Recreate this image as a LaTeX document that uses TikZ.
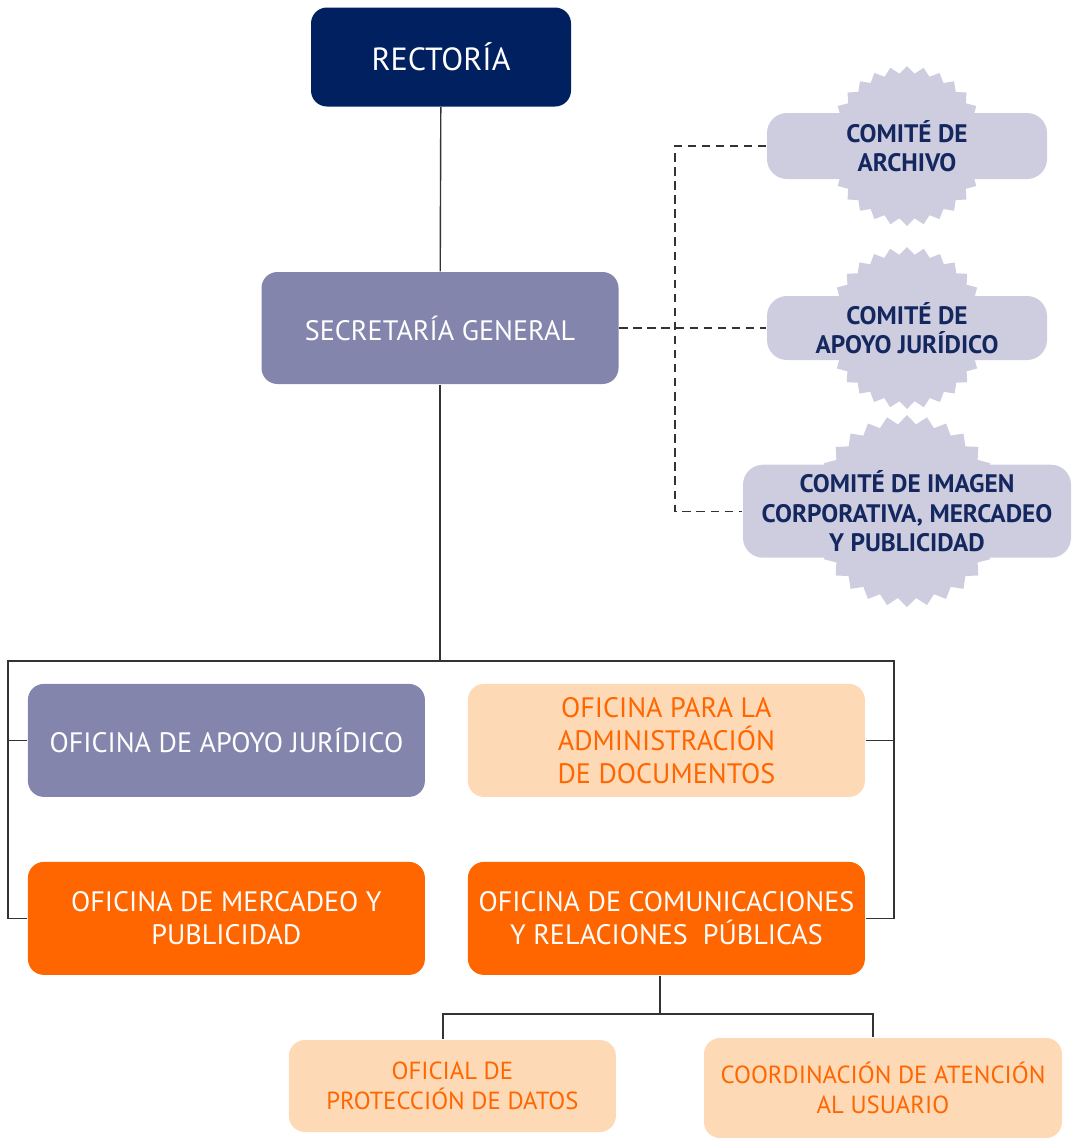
\documentclass[tikz,border=0pt]{standalone}
\usepackage{fontspec}
\setmainfont{PT Sans}
\usepackage{tikz}
\usetikzlibrary{shapes}
\usetikzlibrary{positioning}
\definecolor{rectoriaNavy}{HTML}{002060}
\definecolor{officeSlate}{HTML}{8385AD}
\definecolor{officeOrange}{HTML}{FF6600}
\definecolor{officePeach}{HTML}{FED9B6}
\definecolor{committeeLilac}{HTML}{CECDE0}
\definecolor{committeeInk}{HTML}{14285F}
\definecolor{lineGray}{HTML}{333333}

\begin{document}
\begin{tikzpicture}[line width=1pt]
\tikzset{OfficeBox/.style={
  rectangle,
  rounded corners=0.4cm,
  align=center,
  minimum width=9.925cm,
  minimum height=2.825cm,
  font=\fontsize{20}{23.5}\selectfont
}}
\tikzset{SlateBox/.style={OfficeBox, fill=officeSlate, text=white}}
\tikzset{OrangeBox/.style={OfficeBox, fill=officeOrange, text=white}}
\tikzset{PeachBox/.style={OfficeBox, fill=officePeach, text=officeOrange}}
\tikzset{UnitBox/.style={
  PeachBox,
  font=\fontsize{17.6}{21.3}\selectfont
}}
\tikzset{CommitteeStar/.style={
  star,
  star points=30,
  star point ratio=1.1,
  fill=committeeLilac,
  draw=none,
  inner sep=0pt
}}
\tikzset{CommitteeBox/.style={
  rectangle,
  rounded corners=0.5cm,
  fill=committeeLilac,
  text=committeeInk,
  align=center,
  minimum width=7cm,
  font=\bfseries\fontsize{18}{21}\selectfont
}}
\tikzset{Link/.style={draw=lineGray}}
\tikzset{CommitteeLink/.style={draw=lineGray, dash pattern=on 6pt off 4pt}}

\useasboundingbox (0,0) rectangle (26.8,-28.45);

\node[rectangle, rounded corners=0.4cm, fill=rectoriaNavy, text=white,
      minimum width=6.5cm, minimum height=2.475cm,
      font=\fontsize{22.8}{26}\selectfont] (rectoria) at (11.025,-1.425) {RECTORÍA};
\node[SlateBox, minimum width=8.925cm, minimum height=2.8cm] (secretaria) at (11.0,-8.2) {SECRETARÍA GENERAL};

\node[CommitteeStar, minimum size=4cm] (archivoStar) at (22.675,-3.65) {};
\node[CommitteeBox, minimum height=1.65cm] (archivo) at (22.675,-3.65) {COMITÉ DE\\ARCHIVO};
\node[CommitteeStar, minimum size=4.05cm] (juridicoStar) at (22.675,-8.2) {};
\node[CommitteeBox, minimum height=1.6cm] (juridico) at (22.675,-8.2) {COMITÉ DE\\APOYO JURÍDICO};
\node[CommitteeStar, minimum size=4.8cm] (imagenStar) at (22.675,-12.78) {};
\node[CommitteeBox, minimum width=8.2cm, minimum height=2.325cm] (imagen) at (22.675,-12.78)
  {COMITÉ DE IMAGEN\\CORPORATIVA, MERCADEO\\Y PUBLICIDAD};

\node[SlateBox] (apoyo) at (5.66,-18.51) {OFICINA DE APOYO JURÍDICO};
\node[PeachBox] (documentos) at (16.66,-18.51) {OFICINA PARA LA\\ADMINISTRACIÓN\\DE DOCUMENTOS};
\node[OrangeBox] (mercadeo) at (5.66,-22.96) {OFICINA DE MERCADEO Y\\PUBLICIDAD};
\node[OrangeBox] (comunicaciones) at (16.66,-22.96) {OFICINA DE COMUNICACIONES\\Y RELACIONES~ PÚBLICAS};

\node[UnitBox, minimum width=8.175cm, minimum height=2.3cm] (datos) at (11.31,-27.15) {OFICIAL DE\\PROTECCIÓN DE DATOS};
\node[UnitBox, minimum width=8.95cm, minimum height=2.5cm] (usuario) at (22.075,-27.2) {COORDINACIÓN DE ATENCIÓN\\AL USUARIO};

\coordinate (busL) at (0.2,-16.525);
\coordinate (busR) at (22.35,-16.525);
\coordinate (subL) at (11.075,-25.35);
\coordinate (subR) at (21.825,-25.35);
\coordinate (subM) at (16.5,-25.35);
\coordinate (comiteX) at (16.875,-8.2);

\draw[Link] (rectoria) -- (secretaria);
\draw[Link] (secretaria.south) -- (secretaria.south |- busL);
\draw[Link] (mercadeo.west) -| (busL) -- (busR) |- (comunicaciones.east);
\draw[Link] (apoyo.west) -- (apoyo.west -| busL);
\draw[Link] (documentos.east) -- (documentos.east -| busR);
\draw[Link] (subM |- comunicaciones.south) -- (subM);
\draw[Link] (subL |- datos.north) -- (subL) -- (subR) -- (subR |- usuario.north);

\draw[CommitteeLink] (secretaria.east) -- (juridico.west);
\draw[CommitteeLink] (archivo.west) -| (comiteX) |- (imagen.west);
\end{tikzpicture}
\end{document}
